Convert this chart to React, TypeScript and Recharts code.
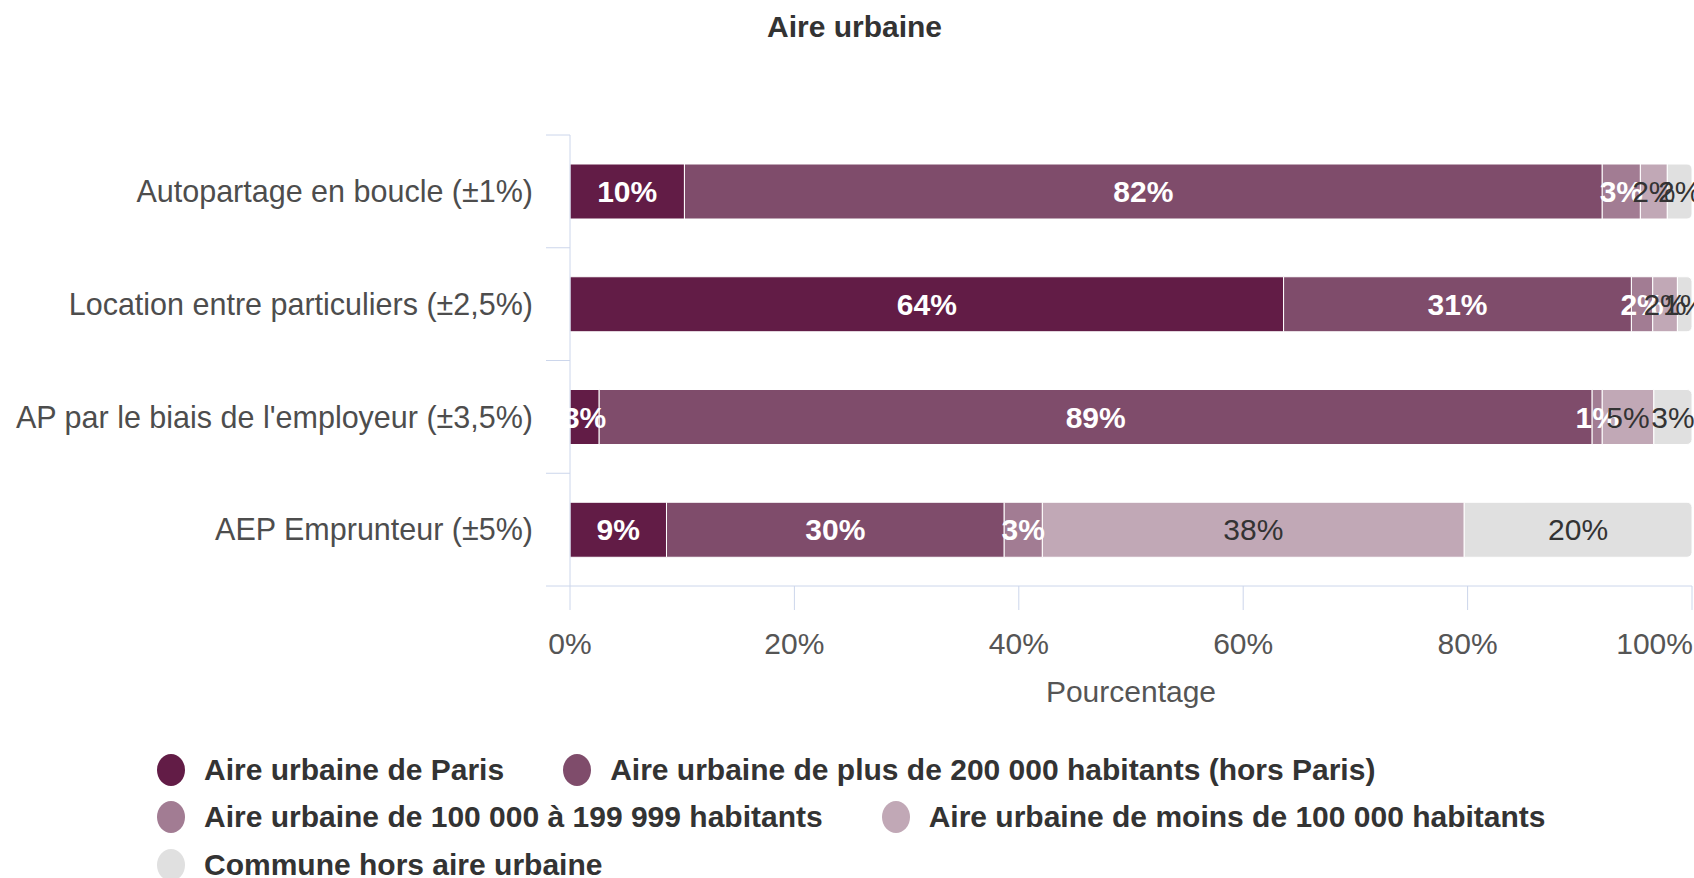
import { BarChart, Bar, XAxis, YAxis, LabelList } from 'recharts';

const categories = [
  'Autopartage en boucle (±1%)',
  'Location entre particuliers (±2,5%)',
  "AP par le biais de l'employeur (±3,5%)",
  'AEP Emprunteur (±5%)'
];

// shares per category, in %
const paris = [10.2, 63.6, 2.6, 8.6];
const plus200k = [81.8, 31.0, 88.5, 30.1];
const de100a199k = [3.4, 1.9, 0.9, 3.4];
const moins100k = [2.4, 2.2, 4.6, 37.6];
const horsAire = [2.2, 1.3, 3.4, 20.3];

const xTicks = [0, 20, 40, 60, 80, 100];

const series = [
  { key: 'paris', name: 'Aire urbaine de Paris', color: '#621c46', label: '#ffffff', values: paris },
  { key: 'plus200k', name: 'Aire urbaine de plus de 200 000 habitants (hors Paris)', color: '#7f4c6b', label: '#ffffff', values: plus200k },
  { key: 'de100a199k', name: 'Aire urbaine de 100 000 à 199 999 habitants', color: '#a27c93', label: '#ffffff', values: de100a199k },
  { key: 'moins100k', name: 'Aire urbaine de moins de 100 000 habitants', color: '#c1a8b6', label: '#333333', values: moins100k },
  { key: 'horsAire', name: 'Commune hors aire urbaine', color: '#e0e0e0', label: '#333333', values: horsAire }
];

const legendRows = [[0, 1], [2, 3], [4]];

const data = categories.map((name, i) => {
  const row: Record<string, string | number> = { name };
  series.forEach(s => { row[s.key] = s.values[i]; });
  return row;
});

const W = 1694;
const H = 878;
const TOP = 135;
const BOTTOM = 586;
const AXIS_W = 570;
const XAXIS_H = 130;
const BAND = (BOTTOM - TOP) / categories.length;
const AXIS_COLOR = '#ccd6eb';
const FONT = "'Liberation Sans', Arial, sans-serif";

const CategoryTick = (props: any) => {
  const { x, y, payload, index } = props;
  return (
    <g>
      <line x1={x + 13} x2={x + 37} y1={y - BAND / 2} y2={y - BAND / 2} stroke={AXIS_COLOR} />
      {index === categories.length - 1 && (
        <line x1={x + 13} x2={x + 37} y1={y + BAND / 2} y2={y + BAND / 2} stroke={AXIS_COLOR} />
      )}
      <text x={x} y={y} dy='0.355em' textAnchor='end' fill='#4d4d4d' fontSize={30.5} fontFamily={FONT}>
        {payload.value}
      </text>
    </g>
  );
};

const ValueTick = (props: any) => {
  const { x, y, payload, index } = props;
  const last = index === xTicks.length - 1;
  return (
    <text
      x={last ? x + 1 : x}
      y={y}
      dy='0.71em'
      textAnchor={last ? 'end' : 'middle'}
      fill='#555'
      fontSize={30}
      fontFamily={FONT}
    >
      {payload.value}%
    </text>
  );
};

const App = () => (
  <div style={{ position: 'absolute', left: 0, top: 0, width: W, height: H, fontFamily: FONT }}>
    <div
      style={{
        position: 'absolute',
        top: 12,
        left: 0,
        width: 1709,
        textAlign: 'center',
        fontSize: 30,
        lineHeight: '30px',
        fontWeight: 'bold',
        color: '#333'
      }}
    >
      Aire urbaine
    </div>
    <BarChart
      width={W}
      height={H}
      data={data}
      layout='vertical'
      margin={{ top: TOP, right: 2, bottom: H - BOTTOM - XAXIS_H, left: 0 }}
    >
      <XAxis
        type='number'
        domain={[0, 100]}
        allowDataOverflow
        ticks={xTicks}
        interval={0}
        height={XAXIS_H}
        tickSize={24}
        tickMargin={23}
        axisLine={{ stroke: AXIS_COLOR }}
        tickLine={{ stroke: AXIS_COLOR }}
        tick={<ValueTick />}
        label={{ value: 'Pourcentage', position: 'insideBottom', offset: 14, fill: '#555', fontSize: 30, fontFamily: FONT }}
      />
      <YAxis
        type='category'
        dataKey='name'
        width={AXIS_W}
        interval={0}
        tickSize={24}
        tickMargin={13}
        tickLine={false}
        axisLine={{ stroke: AXIS_COLOR }}
        tick={<CategoryTick />}
      />
      {series.map((s, i) => (
        <Bar
          key={s.key}
          dataKey={s.key}
          name={s.name}
          stackId='a'
          fill={s.color}
          stroke='#ffffff'
          strokeWidth={1}
          barSize={55}
          radius={i === series.length - 1 ? [0, 5, 5, 0] : 0}
          isAnimationActive={false}
        >
          <LabelList
            dataKey={s.key}
            position='center'
            formatter={(v: any) => `${Math.round(Number(v))}%`}
            fill={s.label}
            fontSize={30}
            fontWeight={s.label === '#ffffff' ? 'bold' : 'normal'}
            fontFamily={FONT}
          />
        </Bar>
      ))}
    </BarChart>
    <div style={{ position: 'absolute', left: 157, top: 746 }}>
      {legendRows.map((row, r) => (
        <div key={r} style={{ display: 'flex', alignItems: 'center', height: 47.5 }}>
          {row.map((idx, j) => (
            <div key={idx} style={{ display: 'flex', alignItems: 'center', marginLeft: j ? 59 : 0 }}>
              <svg width={28} height={34}>
                <ellipse cx={14} cy={17} rx={14} ry={16} fill={series[idx].color} />
              </svg>
              <span
                style={{
                  marginLeft: 19,
                  fontSize: 30,
                  fontWeight: 'bold',
                  color: '#333',
                  whiteSpace: 'nowrap'
                }}
              >
                {series[idx].name}
              </span>
            </div>
          ))}
        </div>
      ))}
    </div>
  </div>
);

export default App;
